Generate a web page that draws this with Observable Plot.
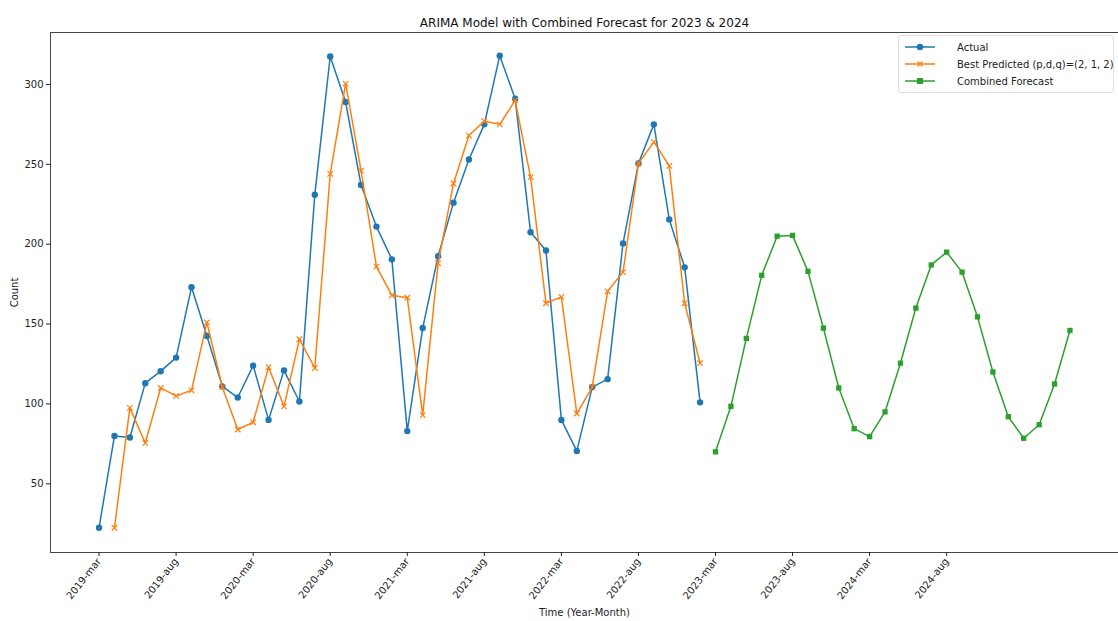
<!DOCTYPE html>
<html>
<head>
<meta charset="utf-8">
<script src="https://cdn.jsdelivr.net/npm/d3@7"></script>
<script src="https://cdn.jsdelivr.net/npm/@observablehq/plot@0.6"></script>
<style>
  body { margin: 0; background: #fff; font-family: "DejaVu Sans", sans-serif; }
  #wrap { position: relative; width: 1118px; height: 621px; overflow: hidden; }
  #legend { position: absolute; left: 898px; top: 35px; width: 216px; height: 58px;
    border: 1px solid #e0e0e0; border-radius: 3px; background: rgba(255,255,255,0.8);
    font-size: 10px; color: #222; box-sizing: border-box; }
  .item { position: absolute; left: 6px; height: 16px; display: flex; align-items: center; }
</style>
</head>
<body>
<div id="wrap"><div id="legend"></div></div>
<script>
const actual = [22.5, 80, 79, 113, 120.5, 129, 173, 142.5, 111, 104,
  124, 90, 121, 101.5, 231, 317.5, 289, 237, 211, 190.5,
  83, 147.5, 192.5, 226, 253, 275, 318, 291, 207.5, 196,
  90, 70.5, 110.5, 115.5, 200.5, 250.5, 275, 215.5, 185.5, 101];
// predicted starts at index 1
const predicted = [22.5, 97.5, 75.5, 110, 105, 108.5, 151, 110.5, 84,
  88.5, 123, 98.5, 140.5, 122.5, 244, 300.5, 246, 186, 168,
  166.5, 93, 188, 238, 268, 277, 275, 290, 242, 163,
  167, 94, 110.5, 170.5, 182.5, 250.5, 264, 249, 163, 125.5];
// forecast starts at index 40
const forecast = [70, 98.5, 141, 180.5, 205, 205.5, 183, 147.5, 110, 84.5,
  79.5, 95, 125.5, 160, 187, 195, 182.5, 154.5, 120, 92,
  78.5, 87, 112.5, 146];
const tickLabels = ["2019-mar", "2019-aug", "2020-mar", "2020-aug", "2021-mar", "2021-aug",
  "2022-mar", "2022-aug", "2023-mar", "2023-aug", "2024-mar", "2024-aug"];
const yTicks = [50, 100, 150, 200, 250, 300];

const colors = {actual: "#1f77b4", predicted: "#ff7f0e", forecast: "#2ca02c"};
const actualData = actual.map((v, i) => ({i, v}));
const predData = predicted.map((v, i) => ({i: i + 1, v}));
const fcData = forecast.map((v, i) => ({i: i + actual.length, v}));
const tickPos = tickLabels.map((_, k) => k * 5);

const chart = Plot.plot({
  width: 1118,
  height: 621,
  marginLeft: 50,
  marginRight: 0,
  marginTop: 32,
  marginBottom: 69,
  style: {fontFamily: "DejaVu Sans, sans-serif", fontSize: "10px", color: "#222", background: "#fff"},
  x: {domain: [-3.15, 66.15]},
  y: {domain: [7, 332.5]},
  marks: [
    Plot.frame({stroke: "#444", strokeWidth: 1}),
    Plot.axisY({ticks: yTicks, tickSize: 4, tickPadding: 3, label: "Count", labelAnchor: "center",
      labelArrow: "none", labelOffset: 40, fontSize: 10}),
    Plot.axisX({ticks: tickPos, tickFormat: d => tickLabels[d / 5], tickSize: 4, tickRotate: -52,
      tickPadding: 3, label: null, fontSize: 10}),
    Plot.text(["Time (Year-Month)"], {frameAnchor: "bottom", dy: 63, fontSize: 10, fill: "#222"}),
    Plot.text(["ARIMA Model with Combined Forecast for 2023 & 2024"], {frameAnchor: "top", dy: -14, fontSize: 12, fill: "#111"}),
    Plot.line(actualData, {x: "i", y: "v", stroke: colors.actual, strokeWidth: 1.5}),
    Plot.dot(actualData, {x: "i", y: "v", fill: colors.actual, r: 3.2}),
    Plot.line(predData, {x: "i", y: "v", stroke: colors.predicted, strokeWidth: 1.5}),
    Plot.dot(predData, {x: "i", y: "v", symbol: "times", stroke: colors.predicted, r: 2.6, strokeWidth: 1.2}),
    Plot.line(fcData, {x: "i", y: "v", stroke: colors.forecast, strokeWidth: 1.5}),
    Plot.dot(fcData, {x: "i", y: "v", symbol: "square", fill: colors.forecast, r: 3})
  ]
});
document.getElementById("wrap").prepend(chart);

const legendItems = [
  {label: "Actual", color: colors.actual, sym: "circle"},
  {label: "Best Predicted (p,d,q)=(2, 1, 2)", color: colors.predicted, sym: "times"},
  {label: "Combined Forecast", color: colors.forecast, sym: "square"}
];
const leg = document.getElementById("legend");
legendItems.forEach((it, k) => {
  const div = document.createElement("div");
  div.className = "item";
  div.style.top = (3 + k * 17) + "px";
  let m = "";
  if (it.sym === "circle") m = `<circle cx="15" cy="8" r="3.2" fill="${it.color}"/>`;
  else if (it.sym === "square") m = `<rect x="12" y="5" width="6" height="6" fill="${it.color}"/>`;
  else m = `<path d="M12.5,5.5L17.5,10.5M17.5,5.5L12.5,10.5" stroke="${it.color}" stroke-width="1.2"/>`;
  div.innerHTML = `<svg width="30" height="16" style="position:absolute;left:0;top:0"><line x1="0" x2="30" y1="8" y2="8" stroke="${it.color}" stroke-width="1.5"/>${m}</svg><span style="margin-left:52px;white-space:nowrap">${it.label}</span>`;
  leg.appendChild(div);
});
</script>
</body>
</html>
